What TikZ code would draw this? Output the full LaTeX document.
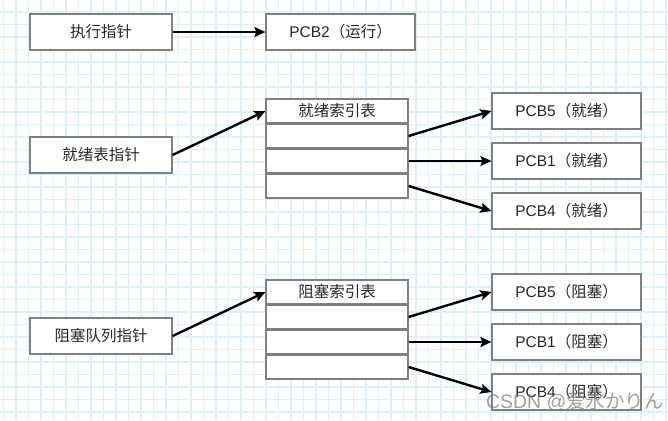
\documentclass[tikz,border=0pt]{standalone}
\usepackage{fontspec}
\setmainfont{Liberation Sans}
\newfontfamily\cjk{Noto Sans CJK SC}
\newfontfamily\jpfont{Noto Sans CJK JP}
\usetikzlibrary{arrows.meta}
\definecolor{gridblue}{RGB}{222,239,250}
\definecolor{boxgray}{RGB}{128,128,128}
\definecolor{inkgray}{RGB}{40,40,40}
\tikzset{
  pbox/.style={draw=boxgray, line width=1.2pt, fill=white, inner sep=0pt,
    minimum width=142pt, minimum height=36pt, text=inkgray,
    font=\fontsize{15.5}{18}\selectfont},
  pcbbox/.style={pbox, minimum width=149pt},
  cell/.style={pbox, minimum height=24pt},
  ptr/.style={-{Stealth[length=11pt, width=10pt, inset=2pt]}, line width=2.4pt, black}
}
\begin{document}
\begin{tikzpicture}[x=1pt, y=-1pt]
      \useasboundingbox (0,0) rectangle (668,420);
      \fill[white] (0,0) rectangle (668,420);
      % grid
      \foreach \k in {0,...,53}
        \draw[gridblue, line width=1.3pt] (3.5+12.5*\k,0) -- (3.5+12.5*\k,420);
      \foreach \k in {1,...,33}
        \draw[gridblue, line width=1.3pt] (0,-0.5+12.5*\k) -- (668,-0.5+12.5*\k);
      % running
      \draw
        (101,32) node[pbox] (run){\cjk 执行指针}
        (340.5,32) node[pcbbox] (pcb2){PCB2{\cjk （运行）}};
      % ready
      \draw
        (101,155) node[pbox] (rdyptr){\cjk 就绪表指针}
        (337,111) node[cell] (rdyhead){\cjk 就绪索引表}
        (337,136) node[cell] (rdy1){}
        (337,161) node[cell] (rdy2){}
        (337,186) node[cell] (rdy3){}
        (566.5,111) node[pcbbox] (rdy5){PCB5{\cjk （就绪）}}
        (566.5,161) node[pcbbox] (rdyb){PCB1{\cjk （就绪）}}
        (566.5,211) node[pcbbox] (rdy4){PCB4{\cjk （就绪）}};
      % blocked
      \draw
        (101,336) node[pbox] (blkptr){\cjk 阻塞队列指针}
        (337,292) node[cell] (blkhead){\cjk 阻塞索引表}
        (337,317) node[cell] (blk1){}
        (337,342) node[cell] (blk2){}
        (337,367) node[cell] (blk3){}
        (566.5,292) node[pcbbox] (blk5){PCB5{\cjk （阻塞）}}
        (566.5,342) node[pcbbox] (blkb){PCB1{\cjk （阻塞）}}
        (566.5,392) node[pcbbox] (blk4){PCB4{\cjk （阻塞）}};
      \begin{scope}[ptr]
        \draw (run.east) to (pcb2.west);
        \draw (rdyptr.east) to (rdyhead.west);
        \draw (rdy1.east) to (rdy5.west);
        \draw (rdy2.east) to (rdyb.west);
        \draw (rdy3.east) to (rdy4.west);
        \draw (blkptr.east) to (blkhead.west);
        \draw (blk1.east) to (blk5.west);
        \draw (blk2.east) to (blkb.west);
        \draw (blk3.east) to (blk4.west);
      \end{scope}
      \node[text=gray, opacity=0.75, font=\fontsize{19.5}{22}\selectfont] (mark)
        at (575,402) {CSDN @{\jpfont 爱氷かりん}};
    \end{tikzpicture}
\end{document}
